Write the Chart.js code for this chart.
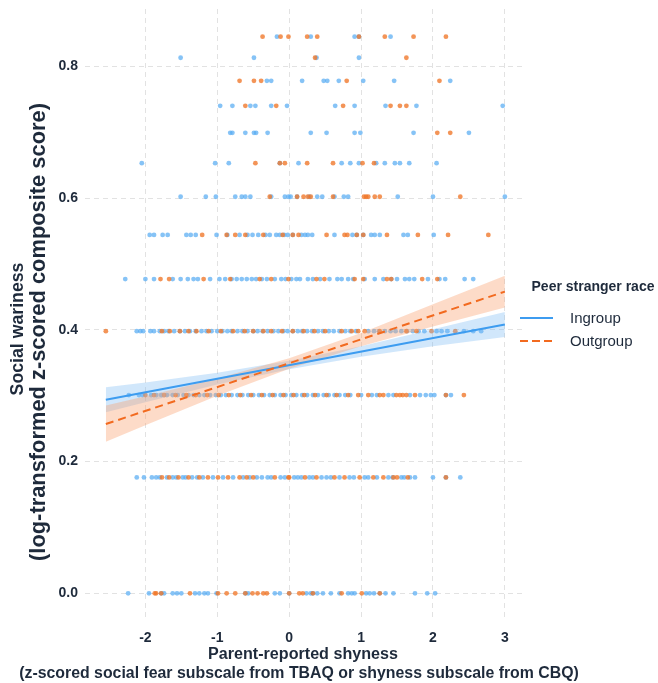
<!DOCTYPE html>
<html>
<head>
<meta charset="utf-8">
<script src="https://cdn.jsdelivr.net/npm/chart.js@4/dist/chart.umd.min.js"></script>
<style>
  body { margin: 0; background: #fff; }
  #wrap { width: 658px; height: 683px; }
</style>
</head>
<body>
<div id="wrap"><canvas id="chart" width="658" height="683"></canvas></div>
<script>
// response levels (log-transformed scores)
const levels = [0, 0.176, 0.301, 0.398, 0.477, 0.544, 0.602, 0.653, 0.699, 0.740, 0.778, 0.813, 0.845];

// shyness values of each child, per response level
const in000 = [-2.24, -1.95, -1.78, -1.74, -1.62, -1.56, -1.50, -1.31, -1.25, -1.18, -1.13, -1.01, -0.61, -0.57, -0.20, -0.13, 0.00, 0.24, 0.30, 0.33, 0.39, 0.47, 0.58, 0.70, 0.82, 0.87, 0.91, 1.07, 1.12, 1.18, 1.26, 1.34, 1.45, 1.75, 1.92, 2.03];
const out000 = [-1.87, -1.85, -1.78, -1.38, -0.99, -0.87, -0.75, -0.61, -0.51, -0.44, -0.36, -0.31, 0.00, 0.14, 0.19, 0.33, 0.73, 1.01, 1.26];
const in176 = [-2.12, -2.02, -1.91, -1.85, -1.80, -1.70, -1.62, -1.57, -1.48, -1.44, -1.35, -1.28, -1.20, -1.06, -0.92, -0.78, -0.64, -0.55, -0.45, -0.38, -0.30, -0.25, -0.12, -0.06, 0.07, 0.12, 0.17, 0.28, 0.33, 0.45, 0.52, 0.58, 0.70, 0.84, 0.90, 1.05, 1.10, 1.22, 1.38, 1.44, 1.56, 1.60, 1.68, 1.75, 2.00, 2.18, 2.38];
const out176 = [-1.77, -1.67, -1.54, -1.40, -1.25, -1.13, -0.99, -0.85, -0.69, -0.59, -0.50, -0.20, -0.01, 0.00, 0.22, 0.38, 0.63, 0.77, 0.98, 1.17, 1.31, 1.45, 1.50, 1.65, 2.18];
const in301 = [-2.23, -2.09, -2.04, -1.92, -1.85, -1.78, -1.70, -1.62, -1.55, -1.47, -1.40, -1.33, -1.25, -1.18, -1.10, -1.02, -0.95, -0.88, -0.80, -0.72, -0.65, -0.57, -0.50, -0.42, -0.35, -0.27, -0.20, -0.12, -0.05, 0.03, 0.10, 0.18, 0.25, 0.33, 0.40, 0.48, 0.55, 0.63, 0.70, 0.78, 0.85, 1.00, 1.15, 1.22, 1.38, 1.45, 1.68, 1.82, 1.90, 1.97, 2.02, 2.18, 2.25];
const out301 = [-2.00, -1.88, -1.74, -1.58, -1.43, -1.30, -1.14, -0.98, -0.84, -0.68, -0.53, -0.38, -0.23, -0.08, 0.06, 0.21, 0.36, 0.52, 0.66, 0.82, 0.96, 1.10, 1.26, 1.31, 1.49, 1.54, 1.58, 1.63, 1.75, 2.18, 2.43];
const in398 = [-2.12, -2.07, -2.03, -1.93, -1.88, -1.80, -1.74, -1.68, -1.60, -1.52, -1.45, -1.38, -1.30, -1.22, -1.15, -1.08, -1.00, -0.93, -0.86, -0.80, -0.72, -0.65, -0.58, -0.50, -0.44, -0.37, -0.30, -0.22, -0.15, -0.08, -0.02, 0.05, 0.12, 0.18, 0.25, 0.32, 0.40, 0.47, 0.55, 0.62, 0.70, 0.78, 0.85, 0.93, 1.10, 1.18, 1.25, 1.33, 1.41, 1.48, 1.56, 1.64, 1.72, 1.80, 1.88, 2.05, 2.12, 2.20, 2.43, 2.56, 2.67];
const out398 = [-2.55, -1.77, -1.66, -1.52, -1.40, -1.29, -1.12, -0.95, -0.78, -0.62, -0.50, -0.36, -0.25, -0.10, 0.05, 0.20, 0.35, 0.50, 0.73, 0.87, 0.96, 1.05, 1.26, 1.63, 1.77, 1.98, 2.31];
const in477 = [-2.28, -2.00, -1.88, -1.62, -1.51, -1.41, -1.33, -1.27, -1.10, -0.97, -0.89, -0.80, -0.73, -0.66, -0.59, -0.52, -0.46, -0.38, -0.31, -0.20, -0.11, -0.05, 0.03, 0.10, 0.15, 0.26, 0.33, 0.43, 0.56, 0.67, 0.73, 0.82, 0.89, 1.05, 1.19, 1.31, 1.42, 1.50, 1.61, 1.67, 1.74, 1.93, 2.09, 2.17, 2.44, 2.56];
const out477 = [-1.79, -1.67, -1.19, -0.82, -0.41, -0.25, -0.01, 0.38, 0.49, 0.91, 1.03, 1.36, 1.42, 1.85, 2.06];
const in544 = [-1.94, -1.88, -1.76, -1.69, -1.43, -1.37, -1.30, -1.01, -0.86, -0.69, -0.58, -0.51, -0.43, -0.33, -0.27, -0.18, -0.13, -0.07, -0.02, 0.05, 0.17, 0.22, 0.26, 0.32, 0.63, 0.88, 0.94, 1.03, 1.14, 1.19, 1.26, 1.59, 1.65, 2.01];
const out544 = [-1.21, -0.87, -0.75, -0.61, -0.36, -0.09, 0.05, 0.13, 0.52, 0.77, 0.81, 0.94, 1.03, 1.36, 1.79, 2.21, 2.77];
const in602 = [-1.51, -1.16, -1.02, -0.75, -0.66, -0.61, -0.54, -0.25, -0.06, -0.01, 0.02, 0.11, 0.28, 0.39, 0.46, 0.63, 0.76, 0.82, 1.51, 2.00, 3.00];
const out602 = [-0.27, 0.11, 0.20, 0.26, 0.30, 0.61, 1.04, 1.07, 1.10, 1.19, 1.26, 2.38];
const in653 = [-2.05, -1.03, -0.84, -0.13, 0.13, 0.73, 0.85, 0.97, 1.21, 1.33, 1.47, 1.54, 1.67, 2.05];
const out653 = [-0.47, -0.13, -0.06, 0.25, 0.61, 1.02, 1.18];
const in699 = [-0.82, -0.79, -0.61, -0.49, -0.46, -0.30, 0.30, 0.52, 0.91, 0.99, 1.73, 2.50];
const out699 = [2.06, 2.24];
const in740 = [-0.96, -0.79, -0.54, -0.47, -0.25, -0.03, 0.64, 0.91, 1.34, 1.77, 2.97];
const out740 = [-0.61, -0.18, 0.75, 1.41, 1.54, 1.63];
const in778 = [-0.31, -0.25, 0.18, 0.48, 0.53, 0.69, 1.03, 1.46, 2.24];
const out778 = [-0.69, -0.49, -0.39, 0.80, 2.09];
const in813 = [-1.51, -0.49, 0.38, 0.97];
const out813 = [0.36, 1.63];
const in845 = [-0.17, 0.30, 0.91, 0.97, 1.41];
const out845 = [-0.37, -0.12, -0.01, 0.25, 0.39, 0.97, 1.33, 1.73, 2.18];

const inRows = [in000, in176, in301, in398, in477, in544, in602, in653, in699, in740, in778, in813, in845];
const outRows = [out000, out176, out301, out398, out477, out544, out602, out653, out699, out740, out778, out813, out845];

// fitted lines (endpoints) and 95% bands
const fitX = [-2.55, 3.0];
const inFit = [0.294, 0.408];
const outFit = [0.257, 0.458];
const bandX = [-2.55, -2, -1, 0, 1, 2, 3];
const inLo = [0.275, 0.290, 0.317, 0.340, 0.359, 0.375, 0.389];
const inHi = [0.313, 0.320, 0.335, 0.353, 0.375, 0.401, 0.427];
const outLo = [0.230, 0.255, 0.300, 0.341, 0.375, 0.405, 0.434];
const outHi = [0.285, 0.299, 0.326, 0.357, 0.395, 0.439, 0.482];

const xTicks = [-2, -1, 0, 1, 2, 3];
const yTicks = [0, 0.2, 0.4, 0.6, 0.8];

const BLUE = "#3d9cf0";
const ORANGE = "#f26a1f";
const TEXT = "#1e2a3b";
const FONT = "'Liberation Sans', Arial, sans-serif";

function toPoints(rows) {
  const pts = [];
  rows.forEach((xs, i) => xs.forEach((x) => pts.push({ x: x, y: levels[i] })));
  return pts;
}
function zip(xs, ys) {
  return xs.map((x, i) => ({ x: x, y: ys[i] }));
}

// bold text centred on (cx, cy), font size chosen so it spans `width` px
function fittedText(ctx, text, cx, cy, width, rotate) {
  ctx.save();
  ctx.translate(cx, cy);
  if (rotate) ctx.rotate(-Math.PI / 2);
  ctx.font = "bold 20px " + FONT;
  const size = (20 * width) / ctx.measureText(text).width;
  ctx.font = "bold " + size.toFixed(2) + "px " + FONT;
  ctx.textAlign = "center";
  ctx.textBaseline = "middle";
  ctx.fillText(text, 0, 0);
  ctx.restore();
}

const lineBase = { type: "line", pointRadius: 0, tension: 0, showLine: true };

const textPlugin = {
  id: "titlesAndLegend",
  afterDraw(chart) {
    const ctx = chart.ctx;
    ctx.save();
    ctx.fillStyle = TEXT;
    fittedText(ctx, "Parent-reported shyness", 303, 655, 190, false);
    fittedText(ctx, "(z-scored social fear subscale from TBAQ or shyness subscale from CBQ)", 299, 674, 560, false);
    fittedText(ctx, "Social wariness", 18, 329, 133, true);
    fittedText(ctx, "(log-transformed z-scored composite score)", 39, 332, 458, true);

    fittedText(ctx, "Peer stranger race", 593, 287, 123, false);
    ctx.font = "15px " + FONT;
    ctx.textBaseline = "middle";
    ctx.fillText("Ingroup", 570, 319);
    ctx.fillText("Outgroup", 570, 342);
    ctx.lineWidth = 2;
    ctx.strokeStyle = BLUE;
    ctx.beginPath();
    ctx.moveTo(520, 318);
    ctx.lineTo(553, 318);
    ctx.stroke();
    ctx.strokeStyle = ORANGE;
    ctx.setLineDash([8, 4]);
    ctx.beginPath();
    ctx.moveTo(520, 341);
    ctx.lineTo(553, 341);
    ctx.stroke();
    ctx.restore();
  },
};

const gridOpts = { color: "#e2e2e2", drawTicks: false };
const borderOpts = { display: false, dash: [5, 4] };

new Chart(document.getElementById("chart"), {
  type: "scatter",
  data: {
    datasets: [
      {
        data: toPoints(inRows),
        backgroundColor: "rgba(88,172,242,0.72)",
        borderWidth: 0,
        pointRadius: 2.4,
        order: 6,
      },
      {
        data: toPoints(outRows),
        backgroundColor: "rgba(240,118,40,0.78)",
        borderWidth: 0,
        pointRadius: 2.4,
        order: 5,
      },
      { ...lineBase, data: zip(bandX, inHi), borderWidth: 0, fill: "+1", backgroundColor: "rgba(120,184,242,0.34)", order: 4 },
      { ...lineBase, data: zip(bandX, inLo), borderWidth: 0, fill: false, order: 4 },
      { ...lineBase, data: zip(bandX, outHi), borderWidth: 0, fill: "+1", backgroundColor: "rgba(250,160,110,0.38)", order: 3 },
      { ...lineBase, data: zip(bandX, outLo), borderWidth: 0, fill: false, order: 3 },
      { ...lineBase, data: zip(fitX, inFit), borderColor: BLUE, borderWidth: 2, fill: false, order: 2 },
      { ...lineBase, data: zip(fitX, outFit), borderColor: ORANGE, borderWidth: 2, borderDash: [8, 5], fill: false, order: 1 },
    ],
  },
  options: {
    responsive: false,
    animation: false,
    layout: { padding: { left: 0, top: 9, right: 133, bottom: 0 } },
    plugins: { legend: { display: false }, tooltip: { enabled: false } },
    scales: {
      x: {
        type: "linear",
        min: -2.84,
        max: 3.28,
        afterBuildTicks: (s) => { s.ticks = xTicks.map((v) => ({ value: v })); },
        afterFit: (s) => { s.height = 62; s.paddingLeft = 0; s.paddingRight = 0; },
        border: borderOpts,
        grid: gridOpts,
        ticks: { padding: 9, color: TEXT, font: { family: FONT, size: 14, weight: "bold" } },
      },
      y: {
        type: "linear",
        min: -0.042,
        max: 0.887,
        afterBuildTicks: (s) => { s.ticks = yTicks.map((v) => ({ value: v })); },
        afterFit: (s) => { s.width = 85; s.paddingTop = 0; s.paddingBottom = 0; },
        border: borderOpts,
        grid: gridOpts,
        ticks: { padding: 7, color: TEXT, font: { family: FONT, size: 14, weight: "bold" }, callback: (v) => v.toFixed(1) },
      },
    },
  },
  plugins: [textPlugin],
});
</script>
</body>
</html>
